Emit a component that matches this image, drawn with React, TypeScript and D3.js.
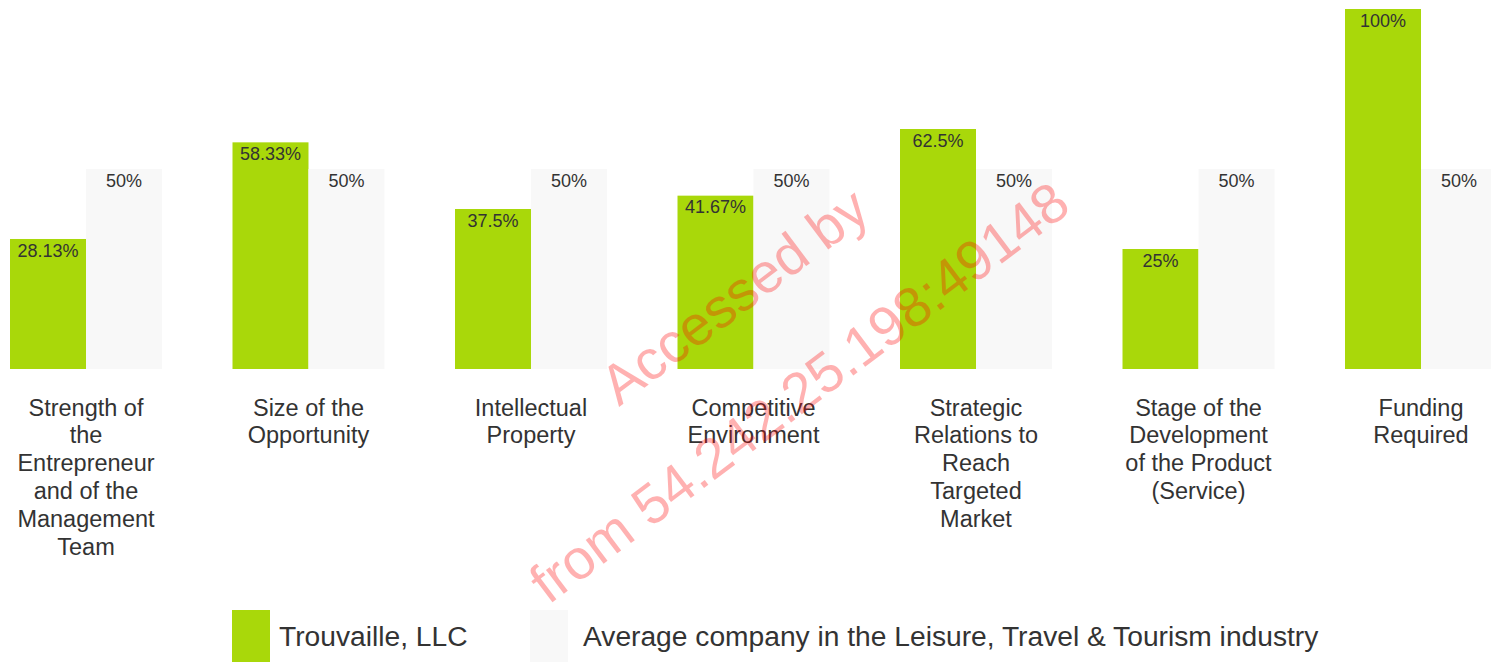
import React, { useMemo } from "react";
import * as d3 from "d3";

const categories = [
  "Strength of the Entrepreneur and of the Management Team",
  "Size of the Opportunity",
  "Intellectual Property",
  "Competitive Environment",
  "Strategic Relations to Reach Targeted Market",
  "Stage of the Development of the Product (Service)",
  "Funding Required",
];
const companyValues = [28.13, 58.33, 37.5, 41.67, 62.5, 25, 100];
const averageValues = [50, 50, 50, 50, 50, 50, 50];
const seriesNames = ["Trouvaille, LLC", "Average company in the Leisure, Travel & Tourism industry"];
const seriesColors = ["#a9d80a", "#f8f8f8"];
const valueLabels = ["28.13%", "58.33%", "37.5%", "41.67%", "62.5%", "25%", "100%"];
const averageLabels = ["50%", "50%", "50%", "50%", "50%", "50%", "50%"];
const watermark = ["Accessed by", "from 54.242.25.198:49148"];

const W = 1491;
const H = 662;
const FONT = "'Liberation Sans', Arial, Helvetica, sans-serif";
const LABEL_SIZE = 23.5;

function wrap(text: string, maxWidth: number, font: string): string[] {
  const canvas = document.createElement("canvas");
  const ctx = canvas.getContext("2d");
  if (!ctx) return [text];
  ctx.font = font;
  const words = text.split(" ");
  const lines: string[] = [];
  let cur = "";
  for (const w of words) {
    const test = cur ? cur + " " + w : w;
    if (ctx.measureText(test).width > maxWidth && cur) {
      lines.push(cur);
      cur = w;
    } else {
      cur = test;
    }
  }
  if (cur) lines.push(cur);
  return lines;
}

export default function App() {
  const x0 = d3
    .scaleBand<string>()
    .domain(categories)
    .range([10, 1497])
    .paddingInner(0.3169)
    .paddingOuter(0);
  const x1 = d3
    .scaleBand<number>()
    .domain([0, 1])
    .range([0, x0.bandwidth()])
    .padding(0);
  const y = d3.scaleLinear().domain([-12.5, 100]).range([369, 9]);
  const yBase = y(-12.5);

  const wrapped = useMemo(
    () => categories.map((c) => wrap(c, 152, `${LABEL_SIZE}px ${FONT}`)),
    []
  );

  const series = [companyValues, averageValues];
  const labels = [valueLabels, averageLabels];

  return (
    <svg
      width={W}
      height={H}
      style={{ position: "absolute", left: 0, top: 0, fontFamily: FONT }}
    >
      <rect x={0} y={0} width={W} height={H} fill="#ffffff" />
      {categories.map((c, i) => {
        const gx = x0(c)!;
        return (
          <g key={c}>
            {series.map((s, k) => (
              <g key={k}>
                <rect
                  x={gx + x1(k)!}
                  y={y(s[i])}
                  width={x1.bandwidth()}
                  height={yBase - y(s[i])}
                  fill={seriesColors[k]}
                />
                <text
                  x={gx + x1(k)! + x1.bandwidth() / 2}
                  y={y(s[i]) + 17.7}
                  textAnchor="middle"
                  fontSize={18}
                  fill="#333333"
                >
                  {labels[k][i]}
                </text>
              </g>
            ))}
            <text
              x={gx + x0.bandwidth() / 2}
              y={415.5}
              textAnchor="middle"
              fontSize={LABEL_SIZE}
              fill="#333333"
            >
              {wrapped[i].map((ln, j) => (
                <tspan key={j} x={gx + x0.bandwidth() / 2} y={415.5 + j * 27.8}>
                  {ln}
                </tspan>
              ))}
            </text>
          </g>
        );
      })}
      <g>
        <rect x={232} y={610} width={38} height={52} fill={seriesColors[0]} />
        <text x={279} y={646} fontSize={28.2} fill="#333333">
          {seriesNames[0]}
        </text>
        <rect x={530} y={610} width={38} height={52} fill={seriesColors[1]} />
        <text x={583} y={646} fontSize={28.2} fill="#333333">
          {seriesNames[1]}
        </text>
      </g>
      <g fill="#ff0000" opacity={0.3} fontSize={56}>
        <text
          x={734}
          y={296}
          textAnchor="middle"
          dominantBaseline="central"
          transform="rotate(-37 734 296)"
        >
          {watermark[0]}
        </text>
        <text
          x={799}
          y={392}
          textAnchor="middle"
          dominantBaseline="central"
          transform="rotate(-37 799 392)"
        >
          {watermark[1]}
        </text>
      </g>
    </svg>
  );
}
